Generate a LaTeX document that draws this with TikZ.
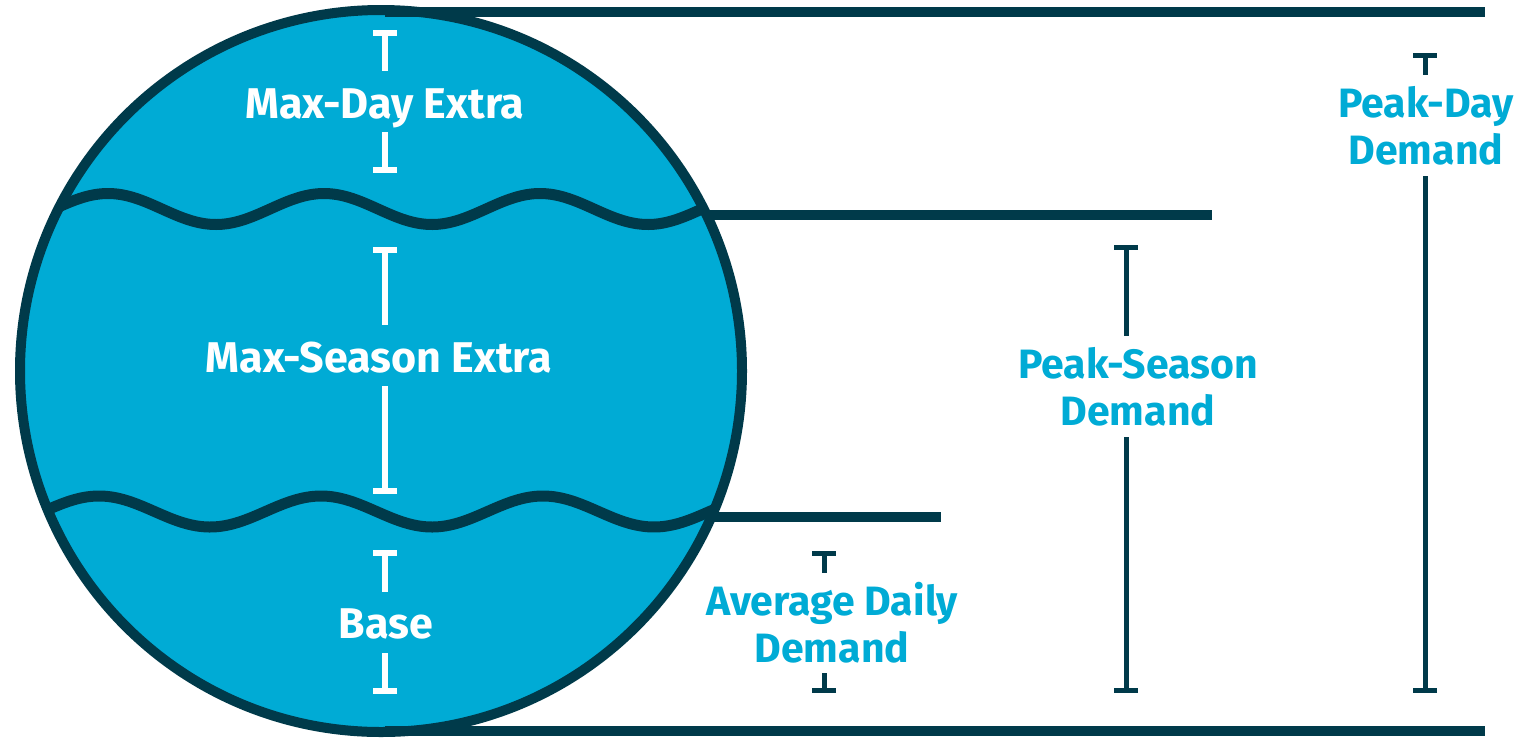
\documentclass[tikz,border=0pt]{standalone}
\usepackage{fontspec}
\setmainfont{Fira Sans}
\usetikzlibrary{arrows.meta}
\definecolor{wblue}{HTML}{00ABD5}
\definecolor{dk}{HTML}{003A4A}
\begin{document}
\begin{tikzpicture}[x=1pt,y=-1pt,
  outline/.style={draw=dk, line width=10pt},
  hline/.style={draw=dk, line width=9.5pt},
  wave/.style={draw=dk, line width=11pt, line join=round},
  wbar/.style={draw=white, line width=6pt},
  dbar/.style={draw=dk, line width=5pt},
  topcap/.style={{Bar[width=24pt]}-},
  botcap/.style={-{Bar[width=24pt]}},
  intext/.style={text=white, font=\bfseries\fontsize{43}{47}\selectfont, inner sep=0pt, anchor=base},
  outtext/.style={text=wblue, font=\bfseries\fontsize{41}{47}\selectfont, inner sep=0pt, anchor=base, align=center}
]
\useasboundingbox (0,0) rectangle (1522,737);

% globe
\node[circle, fill=wblue, minimum size=722pt, inner sep=0pt] (globe) at (381,371) {};
\begin{scope}
  \clip (381,371) circle[radius=361];
  \draw[wave] plot[domain=10:750, samples=220] (\x, {209 - 15.5*cos((\x-108)/216*360)});
  \draw[wave] plot[domain=10:750, samples=220] (\x, {511.5 - 15.5*cos((\x-99)/222*360)});
\end{scope}
\draw[outline] (globe.center) circle[radius=361];

% horizontal level lines
\coordinate (topL) at (385,12);
\coordinate (topR) at (1485,12);
\coordinate (midL) at (704,215);
\coordinate (midR) at (1212,215);
\coordinate (lowL) at (712,517);
\coordinate (lowR) at (941,517);
\coordinate (botL) at (385,731);
\coordinate (botR) at (1485,731);
\draw[hline] (topL) -- (topR);
\draw[hline] (midL) -- (midR);
\draw[hline] (lowL) -- (lowR);
\draw[hline] (botL) -- (botR);

% labels inside globe
\node[intext] (mdx) at (385,118) {Max-Day Extra};
\node[intext] (msx) at (379,372) {Max-Season Extra};
\node[intext] (base) at (386,638) {Base};

\coordinate (mdA) at (385,30);  \coordinate (mdB) at (385,71);
\coordinate (mdC) at (385,132); \coordinate (mdD) at (385,173);
\draw[wbar,topcap] (mdA) -- (mdB);
\draw[wbar,botcap] (mdC) -- (mdD);

\coordinate (msA) at (385,247); \coordinate (msB) at (385,325);
\coordinate (msC) at (385,386); \coordinate (msD) at (385,494);
\draw[wbar,topcap] (msA) -- (msB);
\draw[wbar,botcap] (msC) -- (msD);

\coordinate (bA) at (385,550); \coordinate (bB) at (385,592);
\coordinate (bC) at (385,653); \coordinate (bD) at (385,694);
\draw[wbar,topcap] (bA) -- (bB);
\draw[wbar,botcap] (bC) -- (bD);

% labels outside (anchor = baseline of the last line)
\node[outtext] (avg) at (832,662) {Average Daily\\Demand};
\node[outtext] (pks) at (1138,425) {Peak-Season\\Demand};
\node[outtext] (pkd) at (1426,164) {Peak-Day\\Demand};

\coordinate (aA) at (824,551); \coordinate (aB) at (824,573);
\coordinate (aC) at (824,673); \coordinate (aD) at (824,693);
\draw[dbar,topcap] (aA) -- (aB);
\draw[dbar,botcap] (aC) -- (aD);

\coordinate (sA) at (1126,245); \coordinate (sB) at (1126,336);
\coordinate (sC) at (1126,437); \coordinate (sD) at (1126,693);
\draw[dbar,topcap] (sA) -- (sB);
\draw[dbar,botcap] (sC) -- (sD);

\coordinate (dA) at (1425,53); \coordinate (dB) at (1425,75);
\coordinate (dC) at (1425,176); \coordinate (dD) at (1425,693);
\draw[dbar,topcap] (dA) -- (dB);
\draw[dbar,botcap] (dC) -- (dD);
\end{tikzpicture}
\end{document}
